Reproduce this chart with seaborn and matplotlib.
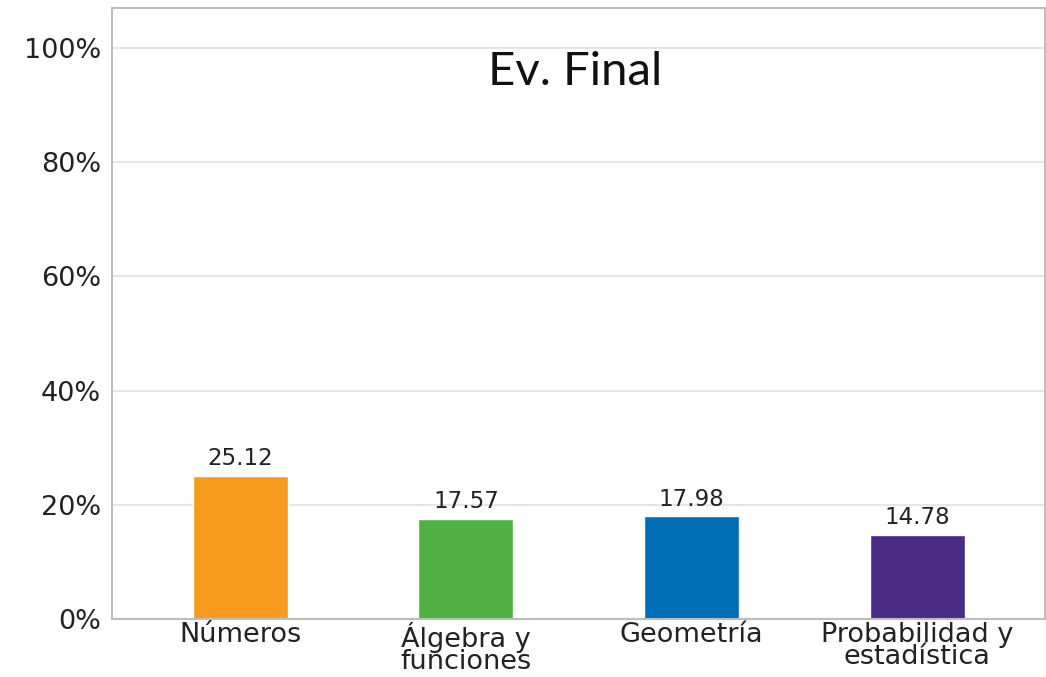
import matplotlib
matplotlib.use("Agg")
import matplotlib.pyplot as plt
import seaborn as sns
import pandas as pd
from matplotlib.ticker import FuncFormatter

categories = ["Números", "Álgebra y\nfunciones", "Geometría", "Probabilidad y\nestadística"]
values = [25.12, 17.57, 17.98, 14.78]
colors = ["#F79A1E", "#50B143", "#006EB6", "#4A2C86"]
yticks = [0, 20, 40, 60, 80, 100]
title = "Ev. Final"

sns.set_theme(style="white")
plt.rcParams['font.family'] = ['DejaVu Sans']

df = pd.DataFrame({"cat": categories, "val": values})

fig = plt.figure(figsize=(10.46, 6.77), dpi=100)
ax = fig.add_axes([0.107, 0.0857, 0.892, 0.9025])

sns.barplot(data=df, x="cat", y="val", hue="cat", palette=colors, legend=False,
            width=0.42, ax=ax, saturation=1)

for c in ax.containers:
    ax.bar_label(c, fmt="%.2f", padding=4, fontsize=16.5, color="#222222")

ax.set_ylim(0, 107)
ax.set_xlim(-0.568, 3.565)
ax.set_yticks(yticks)
ax.yaxis.set_major_formatter(FuncFormatter(lambda v, p: f"{int(v)}%"))
ax.grid(axis="y", color="#e6e6e6", linewidth=1.5)
ax.set_axisbelow(True)
ax.set_xlabel("")
ax.set_ylabel("")
ax.tick_params(axis="both", length=0, labelsize=19.5, colors="#222222")
ax.tick_params(axis="x", pad=2, labelsize=19.5)
ax.tick_params(axis="y", pad=8)
for lab in ax.get_xticklabels():
    lab.set_linespacing(0.82)
for s in ax.spines.values():
    s.set_color("#bdbdbd")
    s.set_linewidth(1.5)

ax.text(0.496, 0.895, title, transform=ax.transAxes, ha="center", va="center",
        fontsize=34, family=["Lato", "DejaVu Sans"], color="#111111")

fig.savefig("out.png", dpi=100)
